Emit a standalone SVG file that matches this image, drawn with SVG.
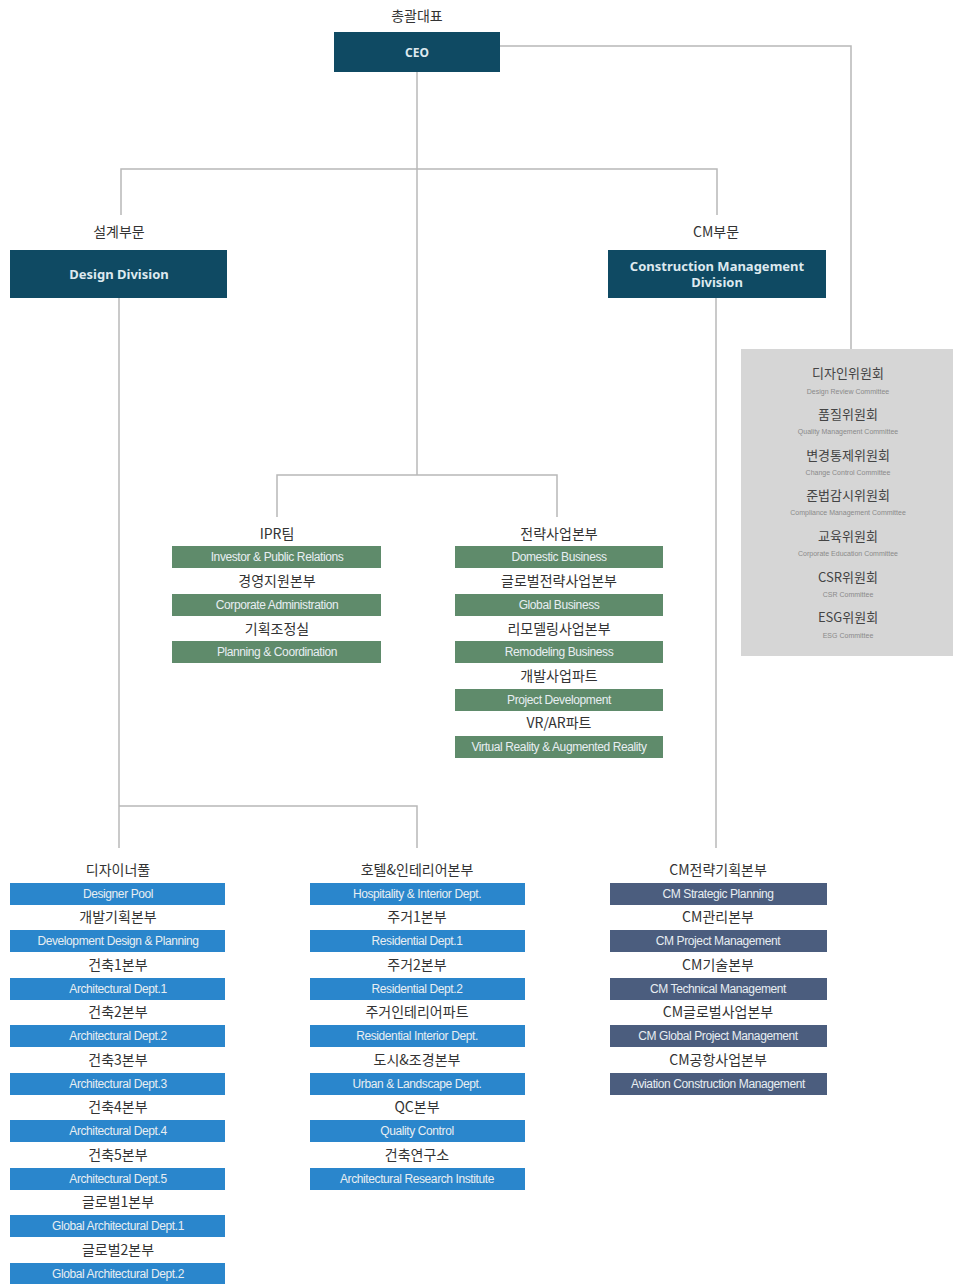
<svg xmlns="http://www.w3.org/2000/svg" width="953" height="1284" viewBox="0 0 953 1284">
<style>
.lbl{font-family:"Noto Sans CJK KR","Noto Sans",sans-serif;font-size:14px;fill:#333;text-anchor:middle}
.bt{font-family:"Liberation Sans","Noto Sans",sans-serif;font-size:12px;fill:#e8eef2;text-anchor:middle;letter-spacing:-0.4px}
.hd{font-family:"Noto Sans","Liberation Sans",sans-serif;font-size:13px;font-weight:bold;fill:#dde9ef;text-anchor:middle}
.dk{fill:#0f4a63}
.gr{fill:#5f8b6b}
.bl{fill:#2a86cc}
.sl{fill:#4b5d7e}
.cl{font-family:"Noto Sans CJK KR","Noto Sans",sans-serif;font-size:13px;fill:#444;text-anchor:middle}
.cs{font-family:"Liberation Sans",sans-serif;font-size:7px;fill:#8a8a8a;text-anchor:middle}
.cn{fill:none;stroke:#b8b8b8;stroke-width:1.5}
</style>
<rect width="953" height="1284" fill="#ffffff"/>
<g id="connectors">
<path class="cn" d="M417 72V475"/>
<path class="cn" d="M121 215V169H717V215"/>
<path class="cn" d="M500 46H851V349"/>
<path class="cn" d="M119 298V848"/>
<path class="cn" d="M119 806H417V848"/>
<path class="cn" d="M716 298V848"/>
<path class="cn" d="M277 517V475H557V517"/>
</g>
<g id="ceo">
<text class="lbl" x="417" y="21">총괄대표</text>
<rect class="dk" x="334" y="32" width="166" height="40"/>
<text class="hd" x="417" y="57" style="font-size:12px">CEO</text>
</g>
<g id="design-division">
<text class="lbl" x="119" y="237">설계부문</text>
<rect class="dk" x="10" y="250" width="217" height="48"/>
<text class="hd" x="119" y="279">Design Division</text>
</g>
<g id="cm-division">
<text class="lbl" x="716" y="237">CM부문</text>
<rect class="dk" x="608" y="250" width="218" height="48"/>
<text class="hd" x="717" y="271">Construction Management</text>
<text class="hd" x="717" y="287">Division</text>
</g>
<g id="committees">
<rect x="741" y="349" width="212" height="307" fill="#d6d6d6"/>
<text class="cl" x="848" y="378">디자인위원회</text>
<text class="cs" x="848" y="394">Design Review Committee</text>
<text class="cl" x="848" y="419">품질위원회</text>
<text class="cs" x="848" y="434">Quality Management Committee</text>
<text class="cl" x="848" y="460">변경통제위원회</text>
<text class="cs" x="848" y="475">Change Control Committee</text>
<text class="cl" x="848" y="500">준법감시위원회</text>
<text class="cs" x="848" y="515">Compliance Management Committee</text>
<text class="cl" x="848" y="541">교육위원회</text>
<text class="cs" x="848" y="556">Corporate Education Committee</text>
<text class="cl" x="848" y="582">CSR위원회</text>
<text class="cs" x="848" y="597">CSR Committee</text>
<text class="cl" x="848" y="622">ESG위원회</text>
<text class="cs" x="848" y="638">ESG Committee</text>
</g>
<g id="ipr-team">
<text class="lbl" x="277" y="539">IPR팀</text>
<rect class="gr" x="172" y="546" width="209" height="22"/>
<text class="bt" x="277" y="561">Investor &amp; Public Relations</text>
</g>
<g id="corporate-admin">
<text class="lbl" x="277" y="586">경영지원본부</text>
<rect class="gr" x="172" y="594" width="209" height="22"/>
<text class="bt" x="277" y="609">Corporate Administration</text>
</g>
<g id="planning-coordination">
<text class="lbl" x="277" y="634">기획조정실</text>
<rect class="gr" x="172" y="641" width="209" height="22"/>
<text class="bt" x="277" y="656">Planning &amp; Coordination</text>
</g>
<g id="domestic-business">
<text class="lbl" x="559" y="539">전략사업본부</text>
<rect class="gr" x="455" y="546" width="208" height="22"/>
<text class="bt" x="559" y="561">Domestic Business</text>
</g>
<g id="global-business">
<text class="lbl" x="559" y="586">글로벌전략사업본부</text>
<rect class="gr" x="455" y="594" width="208" height="22"/>
<text class="bt" x="559" y="609">Global Business</text>
</g>
<g id="remodeling-business">
<text class="lbl" x="559" y="634">리모델링사업본부</text>
<rect class="gr" x="455" y="641" width="208" height="22"/>
<text class="bt" x="559" y="656">Remodeling Business</text>
</g>
<g id="project-development">
<text class="lbl" x="559" y="681">개발사업파트</text>
<rect class="gr" x="455" y="689" width="208" height="22"/>
<text class="bt" x="559" y="704">Project Development</text>
</g>
<g id="vr-ar">
<text class="lbl" x="559" y="728">VR/AR파트</text>
<rect class="gr" x="455" y="736" width="208" height="22"/>
<text class="bt" x="559" y="751">Virtual Reality &amp; Augmented Reality</text>
</g>
<g id="designer-pool">
<text class="lbl" x="118" y="875">디자이너풀</text>
<rect class="bl" x="10" y="883" width="215" height="22"/>
<text class="bt" x="118" y="898">Designer Pool</text>
</g>
<g id="development-design">
<text class="lbl" x="118" y="922">개발기획본부</text>
<rect class="bl" x="10" y="930" width="215" height="22"/>
<text class="bt" x="118" y="945">Development Design &amp; Planning</text>
</g>
<g id="arch-1">
<text class="lbl" x="118" y="970">건축1본부</text>
<rect class="bl" x="10" y="978" width="215" height="22"/>
<text class="bt" x="118" y="993">Architectural Dept.1</text>
</g>
<g id="arch-2">
<text class="lbl" x="118" y="1017">건축2본부</text>
<rect class="bl" x="10" y="1025" width="215" height="22"/>
<text class="bt" x="118" y="1040">Architectural Dept.2</text>
</g>
<g id="arch-3">
<text class="lbl" x="118" y="1065">건축3본부</text>
<rect class="bl" x="10" y="1073" width="215" height="22"/>
<text class="bt" x="118" y="1088">Architectural Dept.3</text>
</g>
<g id="arch-4">
<text class="lbl" x="118" y="1112">건축4본부</text>
<rect class="bl" x="10" y="1120" width="215" height="22"/>
<text class="bt" x="118" y="1135">Architectural Dept.4</text>
</g>
<g id="arch-5">
<text class="lbl" x="118" y="1160">건축5본부</text>
<rect class="bl" x="10" y="1168" width="215" height="22"/>
<text class="bt" x="118" y="1183">Architectural Dept.5</text>
</g>
<g id="global-1">
<text class="lbl" x="118" y="1207">글로벌1본부</text>
<rect class="bl" x="10" y="1215" width="215" height="22"/>
<text class="bt" x="118" y="1230">Global Architectural Dept.1</text>
</g>
<g id="global-2">
<text class="lbl" x="118" y="1255">글로벌2본부</text>
<rect class="bl" x="10" y="1263" width="215" height="22"/>
<text class="bt" x="118" y="1278">Global Architectural Dept.2</text>
</g>
<g id="hospitality">
<text class="lbl" x="417" y="875">호텔&amp;인테리어본부</text>
<rect class="bl" x="310" y="883" width="215" height="22"/>
<text class="bt" x="417" y="898">Hospitality &amp; Interior Dept.</text>
</g>
<g id="residential-1">
<text class="lbl" x="417" y="922">주거1본부</text>
<rect class="bl" x="310" y="930" width="215" height="22"/>
<text class="bt" x="417" y="945">Residential Dept.1</text>
</g>
<g id="residential-2">
<text class="lbl" x="417" y="970">주거2본부</text>
<rect class="bl" x="310" y="978" width="215" height="22"/>
<text class="bt" x="417" y="993">Residential Dept.2</text>
</g>
<g id="residential-interior">
<text class="lbl" x="417" y="1017">주거인테리어파트</text>
<rect class="bl" x="310" y="1025" width="215" height="22"/>
<text class="bt" x="417" y="1040">Residential Interior Dept.</text>
</g>
<g id="urban-landscape">
<text class="lbl" x="417" y="1065">도시&amp;조경본부</text>
<rect class="bl" x="310" y="1073" width="215" height="22"/>
<text class="bt" x="417" y="1088">Urban &amp; Landscape Dept.</text>
</g>
<g id="quality-control">
<text class="lbl" x="417" y="1112">QC본부</text>
<rect class="bl" x="310" y="1120" width="215" height="22"/>
<text class="bt" x="417" y="1135">Quality Control</text>
</g>
<g id="research-institute">
<text class="lbl" x="417" y="1160">건축연구소</text>
<rect class="bl" x="310" y="1168" width="215" height="22"/>
<text class="bt" x="417" y="1183">Architectural Research Institute</text>
</g>
<g id="cm-strategic">
<text class="lbl" x="718" y="875">CM전략기획본부</text>
<rect class="sl" x="610" y="883" width="217" height="22"/>
<text class="bt" x="718" y="898">CM Strategic Planning</text>
</g>
<g id="cm-project">
<text class="lbl" x="718" y="922">CM관리본부</text>
<rect class="sl" x="610" y="930" width="217" height="22"/>
<text class="bt" x="718" y="945">CM Project Management</text>
</g>
<g id="cm-technical">
<text class="lbl" x="718" y="970">CM기술본부</text>
<rect class="sl" x="610" y="978" width="217" height="22"/>
<text class="bt" x="718" y="993">CM Technical Management</text>
</g>
<g id="cm-global">
<text class="lbl" x="718" y="1017">CM글로벌사업본부</text>
<rect class="sl" x="610" y="1025" width="217" height="22"/>
<text class="bt" x="718" y="1040">CM Global Project Management</text>
</g>
<g id="cm-aviation">
<text class="lbl" x="718" y="1065">CM공항사업본부</text>
<rect class="sl" x="610" y="1073" width="217" height="22"/>
<text class="bt" x="718" y="1088">Aviation Construction Management</text>
</g>
</svg>
